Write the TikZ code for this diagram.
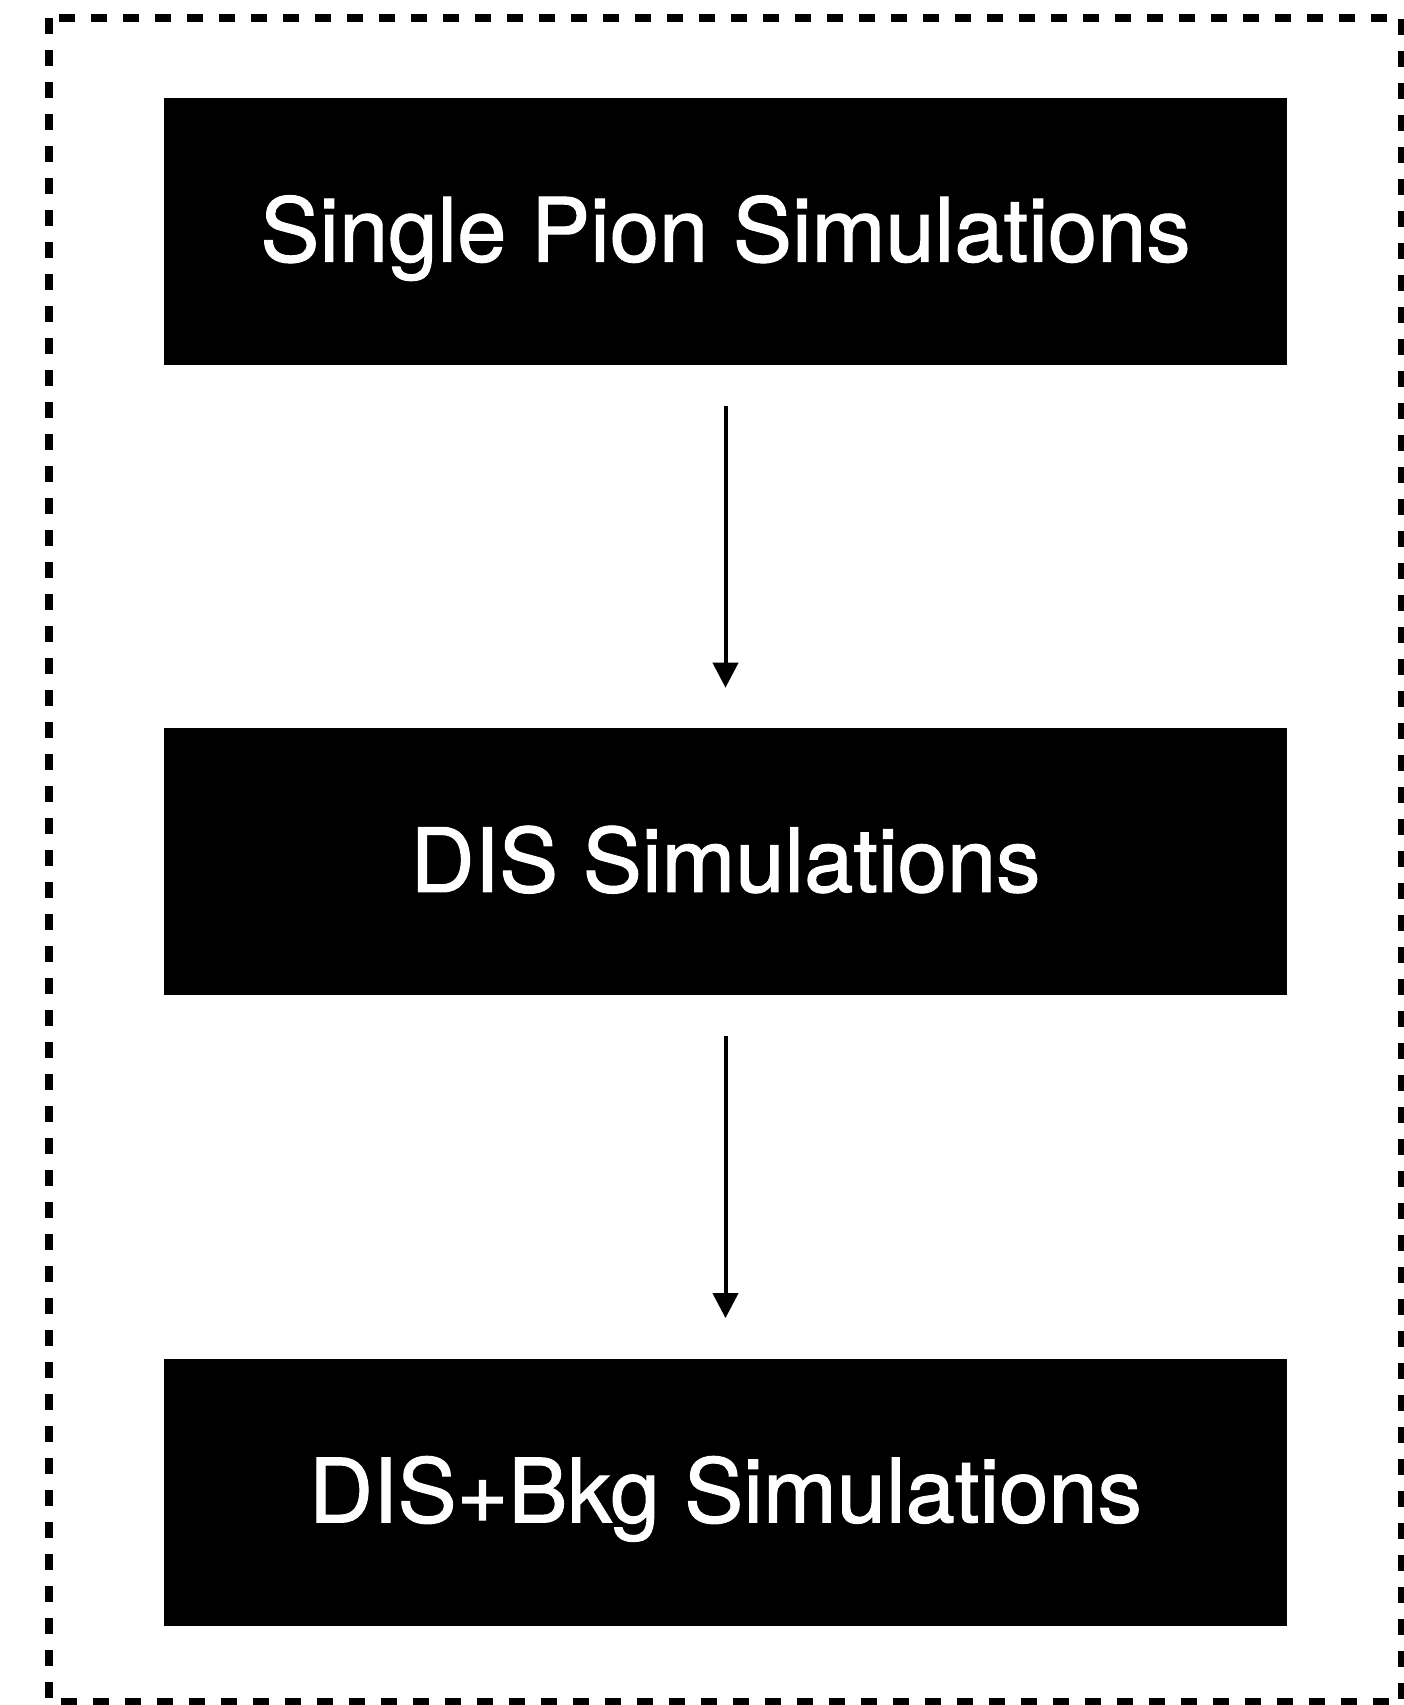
\documentclass[tikz,border=0pt]{standalone}
\usepackage{fontspec}
\setmainfont{TeX Gyre Heros}
\newfontfamily\boxfont{TeX Gyre Heros}[UprightFeatures={FakeBold=1.2}]
\usetikzlibrary{arrows.meta,positioning}

\begin{document}
\begin{tikzpicture}
[simbox/.style={rectangle,fill=black,text=white,minimum width=11.23cm,
    minimum height=2.67cm,inner sep=0pt,text height=0.6cm,text depth=0pt,
    font=\boxfont\fontsize{25.2}{30}\selectfont},
 flow/.style={-{Triangle[width=0.25cm,length=0.25cm]},line width=0.04cm,
    shorten <=0.4cm,shorten >=0.4cm},
 node distance=3.62cm]
\useasboundingbox (0,0) rectangle (14.04,-17.05);
\draw [line width=0.08cm,dash pattern=on 0.16cm off 0.16cm]
  (0.49,-0.18) rectangle (14.02,-17.02);

\node[simbox] (single) at (7.255,-2.315) {Single Pion Simulations};
\node[simbox,below=of single] (dis) {DIS Simulations};
\node[simbox,below=of dis] (disbkg) {DIS+Bkg Simulations};

\draw [flow] (single) -- (dis);
\draw [flow] (dis) -- (disbkg);
\end{tikzpicture}
\end{document}
